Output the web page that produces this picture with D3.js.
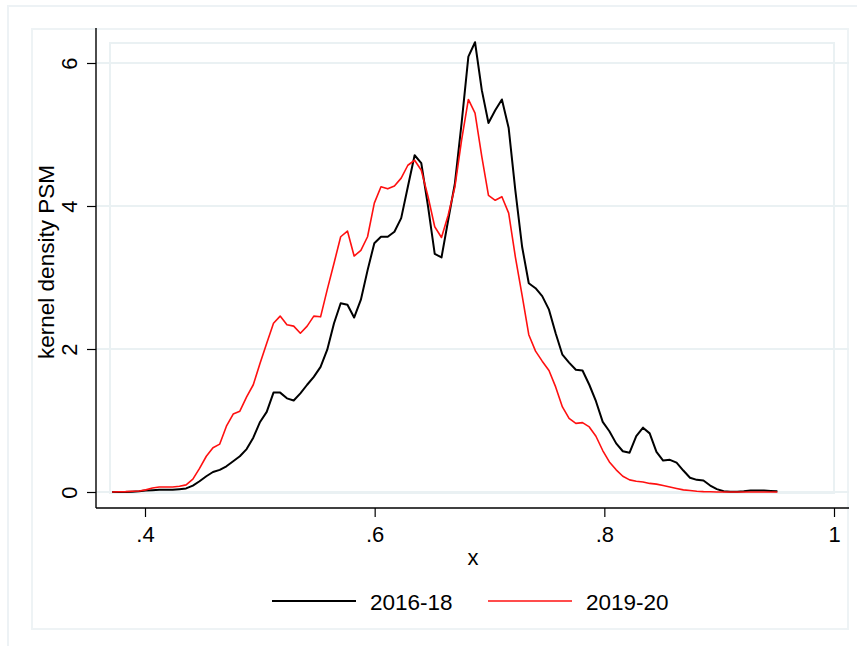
<!DOCTYPE html>
<html>
<head>
<meta charset="utf-8">
<script src="https://cdn.jsdelivr.net/npm/d3@7"></script>
<style>
  html, body { margin: 0; padding: 0; background: #fff; }
  svg { display: block; font-family: "Liberation Sans", Arial, sans-serif; }
</style>
</head>
<body>
<svg id="chart" width="857" height="646"></svg>
<script>
// ---- data ----
const xValues = [
  0.3714, 0.3773, 0.3831, 0.3890, 0.3948, 0.4007, 0.4065, 0.4124, 0.4182, 0.4241,
  0.4300, 0.4358, 0.4417, 0.4475, 0.4534, 0.4592, 0.4651, 0.4709, 0.4768, 0.4826,
  0.4885, 0.4943, 0.5002, 0.5060, 0.5119, 0.5177, 0.5236, 0.5295, 0.5353, 0.5412,
  0.5470, 0.5529, 0.5587, 0.5646, 0.5704, 0.5763, 0.5821, 0.5880, 0.5938, 0.5997,
  0.6055, 0.6114, 0.6172, 0.6231, 0.6289, 0.6348, 0.6406, 0.6465, 0.6523, 0.6582,
  0.6640, 0.6699, 0.6757, 0.6816, 0.6874, 0.6933, 0.6991, 0.7050, 0.7108, 0.7167,
  0.7225, 0.7284, 0.7342, 0.7401, 0.7459, 0.7518, 0.7576, 0.7635, 0.7693, 0.7752,
  0.7810, 0.7869, 0.7927, 0.7986, 0.8044, 0.8103, 0.8161, 0.8220, 0.8278, 0.8337,
  0.8395, 0.8454, 0.8512, 0.8571, 0.8629, 0.8688, 0.8746, 0.8805, 0.8863, 0.8922,
  0.8980, 0.9039, 0.9097, 0.9156, 0.9214, 0.9273, 0.9331, 0.9390, 0.9448, 0.9507
];
const density2016_18 = [
  0.00, 0.00, 0.00, 0.005, 0.01, 0.02, 0.025, 0.03, 0.03, 0.03,
  0.04, 0.05, 0.09, 0.15, 0.22, 0.28, 0.31, 0.36, 0.43, 0.50,
  0.60, 0.76, 0.98, 1.12, 1.39, 1.39, 1.31, 1.28, 1.38, 1.50,
  1.61, 1.75, 1.99, 2.36, 2.64, 2.62, 2.44, 2.69, 3.10, 3.48,
  3.57, 3.57, 3.64, 3.83, 4.27, 4.71, 4.60, 3.99, 3.33, 3.28,
  3.80, 4.32, 5.16, 6.09, 6.29, 5.62, 5.16, 5.34, 5.49, 5.09,
  4.22, 3.43, 2.92, 2.85, 2.74, 2.55, 2.22, 1.92, 1.81, 1.71,
  1.70, 1.50, 1.27, 0.98, 0.85, 0.68, 0.57, 0.55, 0.78, 0.90,
  0.82, 0.56, 0.44, 0.45, 0.41, 0.30, 0.20, 0.17, 0.16, 0.09,
  0.04, 0.01, 0.005, 0.005, 0.01, 0.02, 0.02, 0.02, 0.015, 0.01
];
const density2019_20 = [
  0.00, 0.003, 0.005, 0.01, 0.015, 0.03, 0.055, 0.07, 0.07, 0.07,
  0.08, 0.10, 0.18, 0.33, 0.50, 0.62, 0.67, 0.92, 1.09, 1.13,
  1.33, 1.50, 1.80, 2.08, 2.36, 2.46, 2.34, 2.32, 2.22, 2.32,
  2.46, 2.45, 2.83, 3.20, 3.57, 3.65, 3.30, 3.38, 3.57, 4.04,
  4.27, 4.24, 4.28, 4.39, 4.57, 4.64, 4.50, 4.13, 3.71, 3.56,
  3.87, 4.27, 4.92, 5.49, 5.30, 4.69, 4.15, 4.08, 4.13, 3.90,
  3.29, 2.75, 2.20, 1.97, 1.83, 1.70, 1.47, 1.19, 1.03, 0.96,
  0.97, 0.91, 0.78, 0.58, 0.42, 0.31, 0.22, 0.17, 0.15, 0.14,
  0.12, 0.11, 0.09, 0.07, 0.05, 0.03, 0.02, 0.01, 0.005, 0.003,
  0.00, 0.00, 0.00, 0.00, 0.00, 0.00, 0.00, 0.00, 0.00, 0.00
];
const seriesNames = ["2016-18", "2019-20"];
const xTicks = [0.4, 0.6, 0.8, 1.0];
const xTickLabels = [".4", ".6", ".8", "1"];
const yTicks = [0, 2, 4, 6];
const yTickLabels = ["0", "2", "4", "6"];
const xTitle = "x";
const yTitle = "kernel density PSM";

// ---- layout ----
const svg = d3.select("#chart");
const gridCol = "#eaf1f3";
const seriesColors = ["#000000", "#ff1010"];

// x: 0.4 -> 145, 1.0 -> 834 ; y: 0 -> 492, 6 -> 63
const x = d3.scaleLinear().domain([0.4, 1.0]).range([145, 834]);
const y = d3.scaleLinear().domain([0, 6]).range([492, 63]);

svg.append("rect").attr("width", 857).attr("height", 646).attr("fill", "#fff");

// outer frame
svg.append("rect").attr("x", 8).attr("y", 6).attr("width", 860).attr("height", 660)
  .attr("fill", "none").attr("stroke", "#edf2f5").attr("stroke-width", 2);
// graph region
svg.append("rect").attr("x", 32).attr("y", 29).attr("width", 816).attr("height", 600)
  .attr("fill", "none").attr("stroke", "#eef3f5").attr("stroke-width", 2);
// plot region
svg.append("rect").attr("x", 110).attr("y", 43).attr("width", 724).attr("height", 450)
  .attr("fill", "none").attr("stroke", gridCol).attr("stroke-width", 2);

// gridlines
svg.append("g").selectAll("line").data(yTicks).join("line")
  .attr("x1", 96).attr("x2", 849)
  .attr("y1", d => y(d)).attr("y2", d => y(d))
  .attr("stroke", gridCol).attr("stroke-width", 2);

// y axis
const yAxis = d3.axisLeft(y).tickValues(yTicks)
  .tickFormat((d, i) => yTickLabels[i]).tickSize(9).tickPadding(14);
const gy = svg.append("g").attr("transform", "translate(96,0)").call(yAxis);
gy.select(".domain").remove();
gy.append("line").attr("x1", 0).attr("x2", 0).attr("y1", 28).attr("y2", 508)
  .attr("stroke", "#000").attr("stroke-width", 1.4);
gy.selectAll(".tick line").attr("stroke", "#000").attr("stroke-width", 1.2);
gy.selectAll(".tick text")
  .attr("font-size", 22).attr("fill", "#000")
  .attr("x", null).attr("dy", null)
  .attr("text-anchor", "middle")
  .attr("transform", "translate(-19,0) rotate(-90)")
  .attr("y", 0);

// x axis
const xAxis = d3.axisBottom(x).tickValues(xTicks)
  .tickFormat((d, i) => xTickLabels[i]).tickSize(9).tickPadding(10);
const gx = svg.append("g").attr("transform", "translate(0,508)").call(xAxis);
gx.select(".domain").remove();
gx.append("line").attr("x1", 96).attr("x2", 849).attr("y1", 0).attr("y2", 0)
  .attr("stroke", "#000").attr("stroke-width", 1.4);
gx.selectAll(".tick line").attr("stroke", "#000").attr("stroke-width", 1.2);
gx.selectAll(".tick text").attr("font-size", 22).attr("fill", "#000")
  .attr("dy", null).attr("y", 34);

// axis titles
svg.append("text").attr("x", 473).attr("y", 565).attr("text-anchor", "middle")
  .attr("font-size", 22).attr("fill", "#000").text(xTitle);
svg.append("text").attr("transform", "translate(54,262) rotate(-90)")
  .attr("text-anchor", "middle").attr("font-size", 22.5).attr("fill", "#000").text(yTitle);

// lines
const line = d3.line().x((d, i) => x(xValues[i])).y(d => y(d));
[density2016_18, density2019_20].forEach((s, i) => {
  svg.append("path").datum(s).attr("d", line)
    .attr("fill", "none").attr("stroke", seriesColors[i])
    .attr("stroke-width", i === 0 ? 2 : 1.6).attr("stroke-linejoin", "round");
});

// legend
const legendX = [272, 488];
const legend = svg.append("g");
seriesNames.forEach((name, i) => {
  legend.append("line").attr("x1", legendX[i]).attr("x2", legendX[i] + 84)
    .attr("y1", 601).attr("y2", 601)
    .attr("stroke", seriesColors[i]).attr("stroke-width", i === 0 ? 2 : 1.6);
  legend.append("text").attr("x", legendX[i] + 98).attr("y", 610)
    .attr("font-size", 22.5).attr("fill", "#000").text(name);
});
</script>
</body>
</html>
